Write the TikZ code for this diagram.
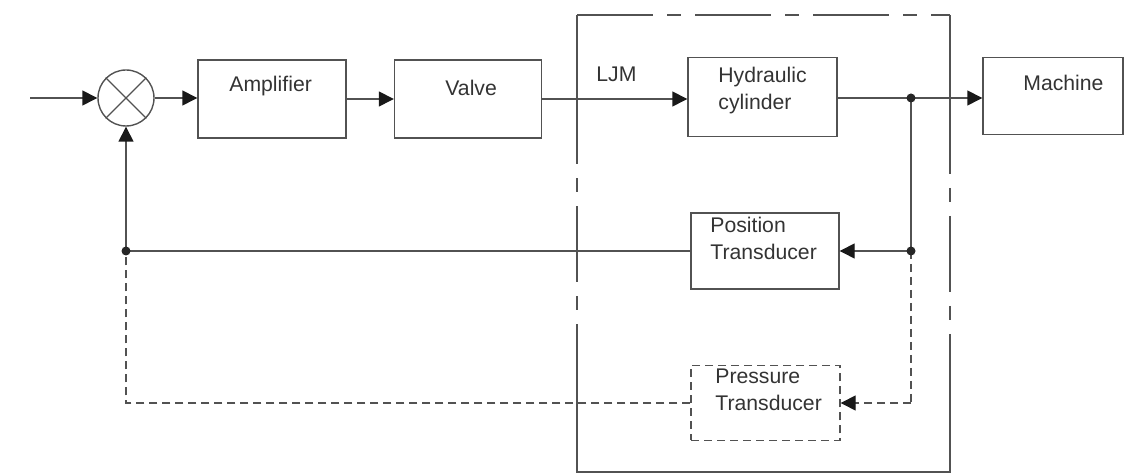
\documentclass[tikz,border=0pt]{standalone}
\usepackage{fontspec}
\setmainfont{Liberation Sans}
\usetikzlibrary{arrows.meta}
\definecolor{ln}{gray}{0.32}
\definecolor{tx}{gray}{0.2}
\tikzset{
  blk/.style={draw=ln, line width=0.7pt, inner sep=0pt},
  lbl/.style={inner sep=0pt, anchor=north west, align=left, text=tx,
              font=\fontsize{10.6}{13.5}\selectfont},
  conn/.style={draw=ln, line width=0.7pt},
  tip/.style={-{Triangle[length=7.5pt,width=7.5pt,color=black!90]}},
  arr/.style={conn, tip},
  dsh/.style={conn, dash pattern=on 4pt off 2.5pt},
  frm/.style={draw=ln, line width=0.7pt, dash pattern=on 38pt off 7pt on 7pt off 7pt},
  dotn/.style={circle, fill=black!85, inner sep=0pt, minimum size=4.5pt}
}
\begin{document}
\begin{tikzpicture}[x=0.5pt,y=-0.5pt]
\useasboundingbox (0,0) rectangle (1126,475);
% blocks
\node[blk, circle, minimum size=28pt] (sum) at (126,98) {};
\draw[conn] (sum.45) -- (sum.225) (sum.135) -- (sum.315);
\node[blk, minimum width=74pt, minimum height=39pt] (amp) at (272,99) {};
\node[blk, minimum width=73.5pt, minimum height=39pt] (valve) at (468,99) {};
\node[blk, minimum width=74.5pt, minimum height=39.5pt] (hyd) at (762.5,97) {};
\node[blk, minimum width=70pt, minimum height=38.5pt] (mach) at (1053,96) {};
\node[blk, minimum width=74pt, minimum height=38pt] (pos) at (765,251) {};
\node[blk, dash pattern=on 4pt off 2.5pt, minimum width=74.5pt, minimum height=37.5pt] (pres) at (765.5,403) {};
% labels
\node[lbl] (tamp) at (229,76) {Amplifier};
\node[lbl] (tvalve) at (445,80) {Valve};
\node[lbl] (tljm) at (596,67) {LJM};
\node[lbl] (thyd) at (718,67) {Hydraulic\\cylinder};
\node[lbl] (tmach) at (1023,75) {Machine};
\node[lbl] (tpos) at (710,217) {Position\\Transducer};
\node[lbl] (tpres) at (715,369) {Pressure\\Transducer};
% coordinates
\coordinate (in) at (30,98);
\coordinate (j1) at (911,98);
\coordinate (j2) at (911,251);
\coordinate (j3) at (911,403);
\coordinate (f1) at (126,251);
\coordinate (f2) at (126,403);
% frame (enclosure)
\draw[conn] (577,98) -- (577,15);
\draw[frm] (577,15) -- (950,15);
\draw[conn] (950,15) -- (950,98);
\draw[frm] (950,98) -- (950,400);
\draw[conn] (950,400) -- (950,472) -- (577,472) -- (577,400);
\draw[frm] (577,400) -- (577,98);
% forward path
\draw[arr] (in) -- (sum.west);
\draw[arr] (sum.east) -- (sum.east -| amp.west);
\draw[arr] (amp.east) -- (amp.east -| valve.west);
\draw[arr] (valve.east) -- (valve.east -| hyd.west);
\draw[conn] (hyd.east |- j1) -- (j1);
\draw[arr] (j1) -- (j1 -| mach.west);
% position feedback
\draw[conn] (j1) -- (j2);
\draw[arr] (j2) -- (pos.east);
\draw[arr] (pos.west) -- (f1) -- (sum.south);
% pressure feedback
\draw[dsh] (j2) -- (j3);
\draw[dsh, tip] (j3) -- (pres.east);
\draw[dsh] (pres.west) -- (f2) -- (f1);
% dots
\node[dotn] (d1) at (j1) {};
\node[dotn] (d2) at (j2) {};
\node[dotn] (d3) at (f1) {};
\end{tikzpicture}
\end{document}
